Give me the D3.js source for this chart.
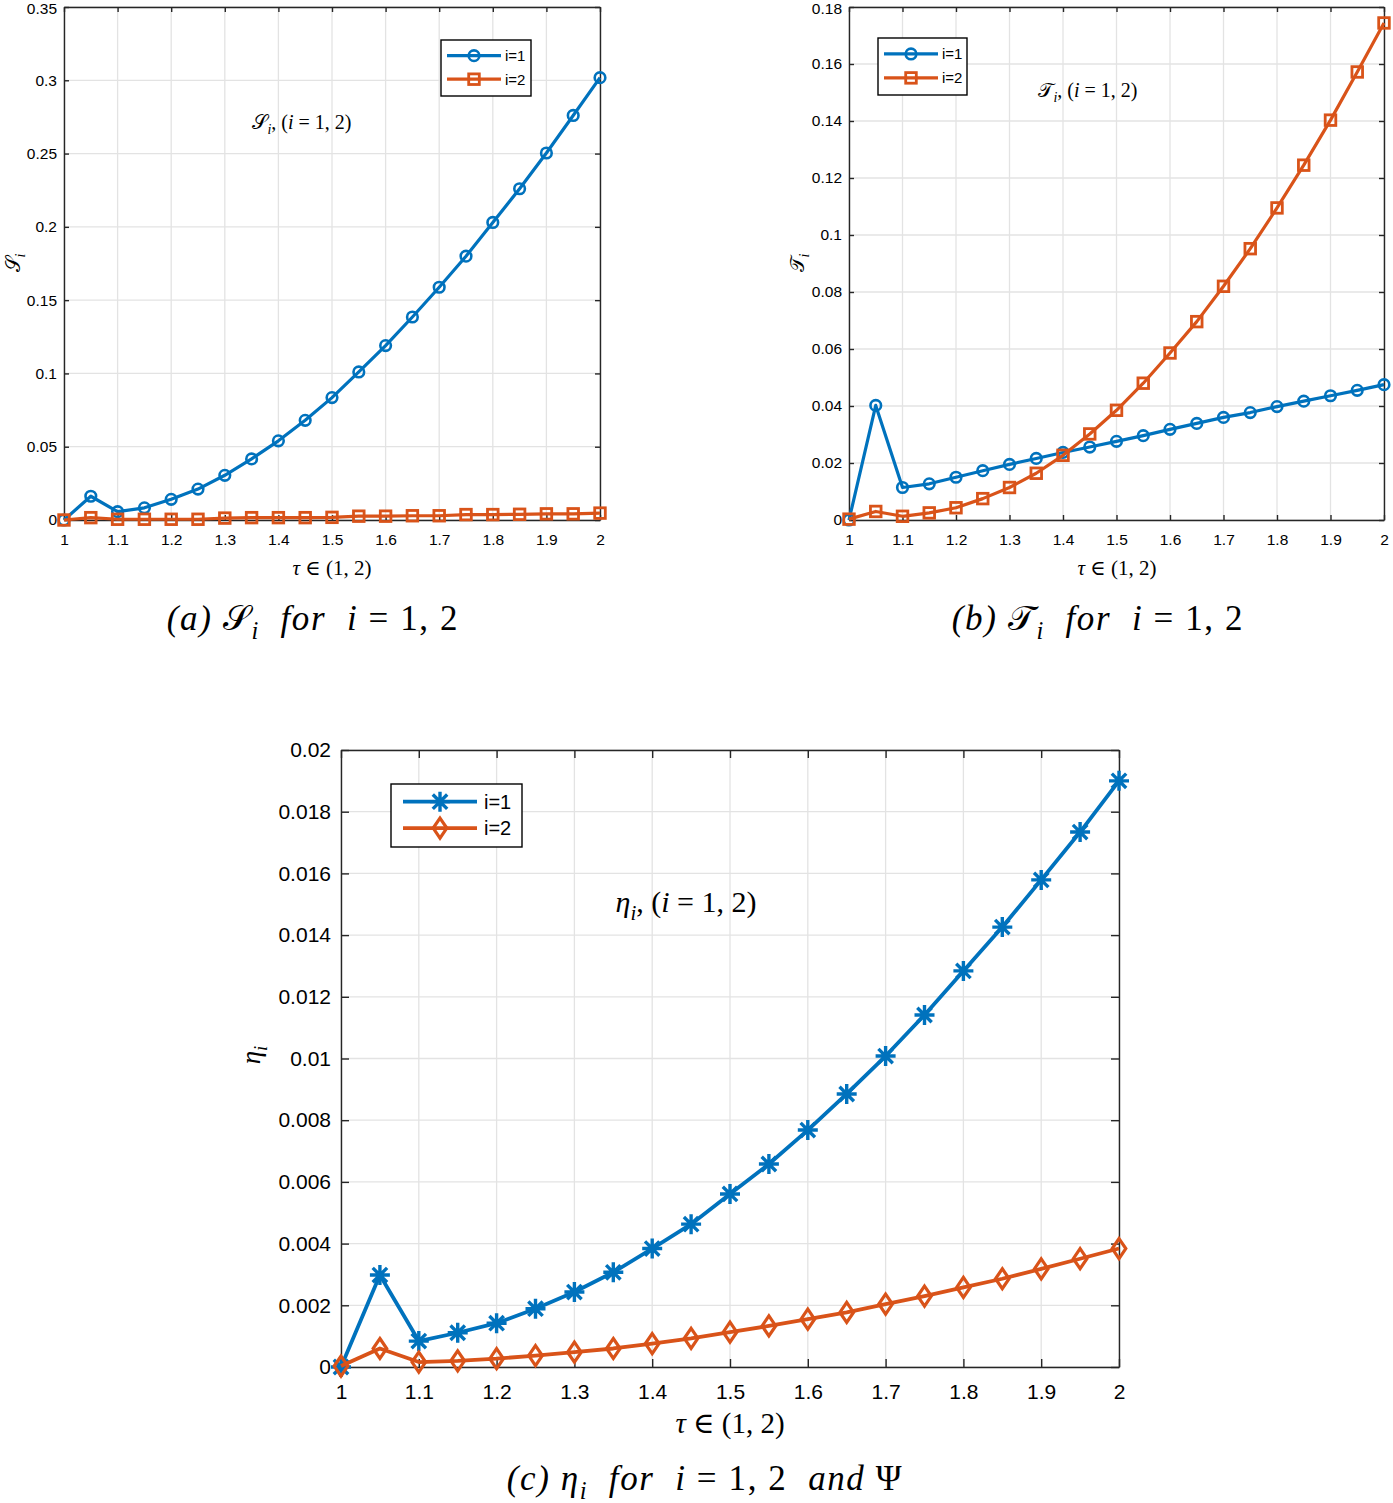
<!DOCTYPE html>
<html><head><meta charset="utf-8">
<script src="https://cdn.jsdelivr.net/npm/d3@7"></script>
<style>body{margin:0;background:#fff}svg{display:block}text{white-space:pre}</style>
</head><body>
<svg id="chart" width="1393" height="1503"></svg>
<script>
// ---------- data ----------
const tau = [1, 1.05, 1.1, 1.15, 1.2, 1.25, 1.3, 1.35, 1.4, 1.45, 1.5, 1.55, 1.6, 1.65, 1.7, 1.75, 1.8, 1.85, 1.9, 1.95, 2];
const S1 = [0, 0.0162, 0.0057, 0.0083, 0.0141, 0.0211, 0.0305, 0.0417, 0.054, 0.068, 0.0835, 0.101, 0.119, 0.1385, 0.1588, 0.180, 0.203, 0.226, 0.2504, 0.276, 0.3018];
const S2 = [0, 0.0016, 0.0005, 0.0005, 0.0005, 0.0005, 0.0013, 0.0016, 0.0016, 0.0016, 0.0018, 0.0026, 0.0026, 0.0029, 0.0029, 0.0037, 0.0037, 0.0039, 0.0042, 0.0042, 0.0047];
const T1 = [0, 0.0402, 0.0114, 0.0127, 0.015, 0.0173, 0.0195, 0.0216, 0.0237, 0.0256, 0.0276, 0.0296, 0.0318, 0.0339, 0.036, 0.0377, 0.0398, 0.0417, 0.0436, 0.0455, 0.0475];
const T2 = [0.0003, 0.003, 0.0013, 0.0025, 0.0043, 0.0075, 0.0114, 0.0164, 0.0227, 0.0302, 0.0385, 0.048, 0.0586, 0.0696, 0.082, 0.0952, 0.1095, 0.1245, 0.1403, 0.1572, 0.1744];
const E1 = [0, 0.00298, 0.00084, 0.00111, 0.00142, 0.00189, 0.00243, 0.00307, 0.00384, 0.00463, 0.00561, 0.00658, 0.00768, 0.00885, 0.01008, 0.01141, 0.01284, 0.01426, 0.01579, 0.01734, 0.019];
const E2 = [0.00003, 0.0006, 0.00016, 0.0002, 0.00027, 0.00037, 0.00048, 0.0006, 0.00076, 0.00093, 0.00113, 0.00133, 0.00155, 0.00177, 0.00204, 0.0023, 0.00258, 0.00286, 0.00318, 0.00351, 0.00384];

const xTicks = [1, 1.1, 1.2, 1.3, 1.4, 1.5, 1.6, 1.7, 1.8, 1.9, 2];
const xTickLabels = ["1", "1.1", "1.2", "1.3", "1.4", "1.5", "1.6", "1.7", "1.8", "1.9", "2"];
const sTicks = [0, 0.05, 0.1, 0.15, 0.2, 0.25, 0.3, 0.35];
const sTickLabels = ["0", "0.05", "0.1", "0.15", "0.2", "0.25", "0.3", "0.35"];
const tTicks = [0, 0.02, 0.04, 0.06, 0.08, 0.1, 0.12, 0.14, 0.16, 0.18];
const tTickLabels = ["0", "0.02", "0.04", "0.06", "0.08", "0.1", "0.12", "0.14", "0.16", "0.18"];
const eTicks = [0, 0.002, 0.004, 0.006, 0.008, 0.01, 0.012, 0.014, 0.016, 0.018, 0.02];
const eTickLabels = ["0", "0.002", "0.004", "0.006", "0.008", "0.01", "0.012", "0.014", "0.016", "0.018", "0.02"];
const legendLabels = ["i=1", "i=2"];

// ---------- drawing ----------
const BLUE = "#0072BD", ORANGE = "#D95319";
const SANS = "'Liberation Sans', Arial, Helvetica, sans-serif";
const SERIF = "'Liberation Serif', 'DejaVu Serif', serif";
const svg = d3.select("#chart");

function mathText(g, x, y, parts, size, anchor, rotate, spacing) {
  const t = g.append("text")
    .attr("font-family", SERIF).attr("font-size", size)
    .attr("text-anchor", anchor || "middle").attr("fill", "#000");
  if (spacing) t.attr("letter-spacing", spacing);
  if (rotate) t.attr("transform", `translate(${x},${y}) rotate(${rotate})`);
  else t.attr("x", x).attr("y", y);
  let prevSub = false;
  parts.forEach(p => {
    const [txt, ital, sub] = p;
    const ts = t.append("tspan").text(txt).attr("font-style", ital ? "italic" : "normal");
    if (sub) ts.attr("font-size", size * 0.7);
    let dy = 0;
    if (sub && !prevSub) dy = size * 0.25;
    if (!sub && prevSub) dy = -size * 0.25;
    if (dy) ts.attr("dy", dy);
    prevSub = !!sub;
  });
  return t;
}

function drawMarker(g, type, cx, cy, color, s) {
  if (type === "circle") {
    g.append("circle").attr("cx", cx).attr("cy", cy).attr("r", s)
      .attr("fill", "none").attr("stroke", color).attr("stroke-width", 2.6);
  } else if (type === "square") {
    g.append("rect").attr("x", cx - s).attr("y", cy - s).attr("width", 2 * s).attr("height", 2 * s)
      .attr("fill", "none").attr("stroke", color).attr("stroke-width", 2.8);
  } else if (type === "star") {
    const d = s * 0.72;
    const p = `M${cx - s},${cy}L${cx + s},${cy}M${cx},${cy - s}L${cx},${cy + s}M${cx - d},${cy - d}L${cx + d},${cy + d}M${cx - d},${cy + d}L${cx + d},${cy - d}`;
    g.append("path").attr("d", p).attr("stroke", color).attr("stroke-width", 3.4).attr("fill", "none");
  } else if (type === "diamond") {
    const w = s * 0.68;
    g.append("path").attr("d", `M${cx},${cy - s}L${cx + w},${cy}L${cx},${cy + s}L${cx - w},${cy}Z`)
      .attr("fill", "none").attr("stroke", color).attr("stroke-width", 3.2);
  }
}

function panel(o) {
  const g = svg.append("g");
  const x = d3.scaleLinear().domain([1, 2]).range([o.left, o.right]);
  const y = d3.scaleLinear().domain([0, o.yMax]).range([o.bottom, o.top]);
  // grid
  g.append("g").selectAll("line").data(o.xTicks).join("line")
    .attr("x1", d => x(d)).attr("x2", d => x(d)).attr("y1", o.top).attr("y2", o.bottom)
    .attr("stroke", "#e3e3e3").attr("stroke-width", 1.3);
  g.append("g").selectAll("line").data(o.yTicks).join("line")
    .attr("y1", d => y(d)).attr("y2", d => y(d)).attr("x1", o.left).attr("x2", o.right)
    .attr("stroke", "#e3e3e3").attr("stroke-width", 1.3);
  // axes
  const fs = o.fontSize, tl = o.tickLen;
  const ax = (axis, tr, labels) => {
    const a = g.append("g").attr("transform", tr).call(axis);
    a.select(".domain").attr("stroke", "#262626").attr("stroke-width", 1.4);
    a.selectAll(".tick line").attr("stroke", "#262626").attr("stroke-width", 1.4);
    a.selectAll("text").attr("font-family", SANS).attr("font-size", fs).attr("fill", "#000");
    if (!labels) a.selectAll("text").remove();
    return a;
  };
  const xl = d3.axisBottom(x).tickValues(o.xTicks).tickFormat((d, i) => xTickLabels[i]).tickSizeInner(-tl).tickSizeOuter(0).tickPadding(o.xPad);
  ax(xl, `translate(0,${o.bottom})`, true);
  ax(d3.axisTop(x).tickValues(o.xTicks).tickSizeInner(-tl).tickSizeOuter(0), `translate(0,${o.top})`, false);
  const yl = d3.axisLeft(y).tickValues(o.yTicks).tickFormat((d, i) => o.yLabels[i]).tickSizeInner(-tl).tickSizeOuter(0).tickPadding(o.yPad);
  const ya = ax(yl, `translate(${o.left},0)`, true);
  if (o.topNudge) ya.selectAll(".tick").filter(d => d === o.yMax).select("text").attr("dy", `calc(0.32em + ${o.topNudge}px)`).attr("transform", `translate(0,${o.topNudge})`);
  ax(d3.axisRight(y).tickValues(o.yTicks).tickSizeInner(-tl).tickSizeOuter(0), `translate(${o.right},0)`, false);
  // series
  const line = d3.line().x((d, i) => x(tau[i])).y(d => y(d));
  o.series.forEach(s => {
    g.append("path").datum(s.data).attr("d", line).attr("fill", "none")
      .attr("stroke", s.color).attr("stroke-width", o.lw).attr("stroke-linejoin", "round");
    const mg = g.append("g");
    s.data.forEach((v, i) => drawMarker(mg, s.marker, x(tau[i]), y(v), s.color, o.ms));
  });
  // legend
  const L = o.legend;
  const lg = g.append("g");
  lg.append("rect").attr("x", L.x).attr("y", L.y).attr("width", L.w).attr("height", L.h)
    .attr("fill", "#fff").attr("stroke", "#000").attr("stroke-width", 1.4);
  o.series.forEach((s, i) => {
    const yy = L.y + L.h * (i === 0 ? 0.28 : 0.7);
    lg.append("line").attr("x1", L.x + L.pad).attr("x2", L.x + L.pad + L.len).attr("y1", yy).attr("y2", yy)
      .attr("stroke", s.color).attr("stroke-width", o.lw);
    drawMarker(lg, s.marker, L.x + L.pad + L.len / 2, yy, s.color, o.ms);
    lg.append("text").attr("x", L.x + L.pad + L.len + L.gap).attr("y", yy + L.fs * 0.36)
      .attr("font-family", SANS).attr("font-size", L.fs).text(legendLabels[i]);
  });
  return g;
}

// Panel (a)
const ga = panel({left: 64, right: 600, top: 7, bottom: 520, yMax: 0.35, yTicks: sTicks, yLabels: sTickLabels,
  xTicks, fontSize: 15.5, tickLen: 5, xPad: 14, yPad: 7, lw: 3.2, ms: 5.3, topNudge: 2,
  series: [{data: S1, color: BLUE, marker: "circle"}, {data: S2, color: ORANGE, marker: "square"}],
  legend: {x: 441, y: 40, w: 90, h: 56, pad: 6, len: 54, gap: 4, fs: 15}});
mathText(ga, 302, 129, [["𝒮", false], ["i", true, true], [", (", false], ["i", true], [" = 1, 2)", false]], 20);
mathText(ga, 332, 575, [["τ", true], [" ∈ (1, 2)", false]], 21);
mathText(ga, 20, 263, [["𝒮", false], ["i", true, true]], 20, "middle", -90);
mathText(ga, 313, 630, [["(a) ", true], ["𝒮", false], ["i", true, true], ["  for  ", true], ["i", true], [" = 1, 2", false]], 35, "middle", 0, 1.6);

// Panel (b)
const gb = panel({left: 849, right: 1384, top: 7, bottom: 520, yMax: 0.18, yTicks: tTicks, yLabels: tTickLabels,
  xTicks, fontSize: 15.5, tickLen: 5, xPad: 14, yPad: 7, lw: 3.2, ms: 5.3, topNudge: 2,
  series: [{data: T1, color: BLUE, marker: "circle"}, {data: T2, color: ORANGE, marker: "square"}],
  legend: {x: 878, y: 38, w: 89, h: 57, pad: 6, len: 54, gap: 4, fs: 15}});
mathText(gb, 1088, 97, [["𝒯", false], ["i", true, true], [", (", false], ["i", true], [" = 1, 2)", false]], 20);
mathText(gb, 1117, 575, [["τ", true], [" ∈ (1, 2)", false]], 21);
mathText(gb, 804, 263, [["𝒯", false], ["i", true, true]], 20, "middle", -90);
mathText(gb, 1098, 630, [["(b) ", true], ["𝒯", false], ["i", true, true], ["  for  ", true], ["i", true], [" = 1, 2", false]], 35, "middle", 0, 1.6);

// Panel (c)
const gc = panel({left: 341, right: 1119, top: 750, bottom: 1367, yMax: 0.02, yTicks: eTicks, yLabels: eTickLabels,
  xTicks, fontSize: 21, tickLen: 8, xPad: 17, yPad: 10, lw: 3.8, ms: 10,
  series: [{data: E1, color: BLUE, marker: "star"}, {data: E2, color: ORANGE, marker: "diamond"}],
  legend: {x: 391, y: 784, w: 131, h: 63, pad: 12, len: 74, gap: 7, fs: 20}});
mathText(gc, 686, 912, [["η", true], ["i", true, true], [", (", false], ["i", true], [" = 1, 2)", false]], 30);
mathText(gc, 730, 1433, [["τ", true], [" ∈ (1, 2)", false]], 29);
mathText(gc, 260, 1055, [["η", true], ["i", true, true]], 27, "middle", -90);
mathText(gc, 705, 1490, [["(c) ", true], ["η", true], ["i", true, true], ["  for  ", true], ["i", true], [" = 1, 2  ", false], ["and", true], [" Ψ", false]], 35, "middle", 0, 1.6);
</script>
</body></html>
